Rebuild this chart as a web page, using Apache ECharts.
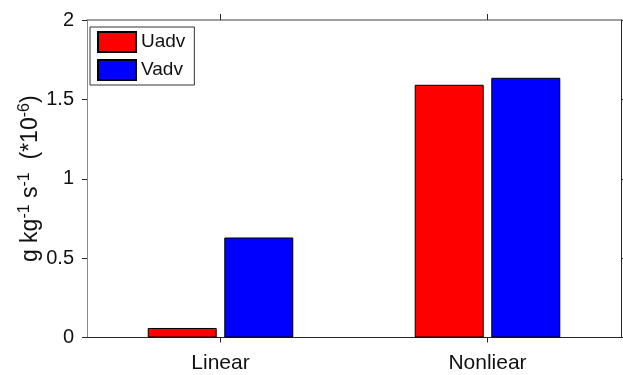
<!DOCTYPE html>
<html>
<head>
<meta charset="utf-8">
<script src="https://cdn.jsdelivr.net/npm/echarts@6/dist/echarts.min.js"></script>
<style>html,body{margin:0;padding:0;background:#fff;}#c{width:623px;height:375px;}</style>
</head>
<body>
<div id="c"></div>
<script>
var categories = ['Linear', 'Nonliear'];
var uadv = [0.06, 1.592];
var vadv = [0.63, 1.636];
var yTicks = [0, 0.5, 1, 1.5, 2];

var chart = echarts.init(document.getElementById('c'), null, {renderer: 'canvas'});
var font = 'Liberation Sans, Arial, sans-serif';
chart.setOption({
  animation: false,
  backgroundColor: '#fff',
  grid: {left: 87, right: 2, top: 20, bottom: 37.5},
  legend: {
    left: 90, top: 27, orient: 'vertical',
    itemWidth: 38, itemHeight: 20, itemGap: 6,
    padding: [4, 9, 4, 7],
    borderColor: '#333', borderWidth: 1, backgroundColor: '#fff',
    icon: 'rect',
    textStyle: {fontFamily: font, fontSize: 19, color: '#111'},
    data: ['Uadv', 'Vadv']
  },
  xAxis: [{
    type: 'category', data: categories, position: 'bottom',
    axisLine: {lineStyle: {color: '#262626', width: 1}},
    axisTick: {show: true, alignWithLabel: true, length: 5, lineStyle: {color: '#262626'}},
    axisLabel: {fontFamily: font, fontSize: 21, color: '#111', margin: 15}
  }, {
    type: 'category', data: categories, position: 'top',
    axisLine: {show: true, onZero: false, lineStyle: {color: '#808080', width: 1.5}},
    axisTick: {show: true, alignWithLabel: true, length: 6, lineStyle: {color: '#262626'}},
    axisLabel: {show: false}
  }],
  yAxis: [{
    type: 'value', min: yTicks[0], max: yTicks[yTicks.length - 1], interval: 0.5, position: 'left',
    splitLine: {show: false},
    axisLine: {show: true, lineStyle: {color: '#888', width: 1}},
    axisTick: {show: true, length: 5, lineStyle: {color: '#262626'}},
    axisLabel: {fontFamily: font, fontSize: 20, color: '#111', margin: 13},
    name: 'g kg{sup|-1} s{sup|-1}  (*10{sup|-6})',
    nameLocation: 'middle', nameRotate: 90, nameGap: 42, nameMoveOverlap: false,
    nameTextStyle: {
      fontFamily: font, fontSize: 23, color: '#111', lineHeight: 28,
      rich: {sup: {fontFamily: font, fontSize: 16, color: '#111', verticalAlign: 'top', lineHeight: 16}}
    }
  }, {
    type: 'value', min: yTicks[0], max: yTicks[yTicks.length - 1], interval: 0.5, position: 'right',
    splitLine: {show: false},
    axisLine: {show: true, lineStyle: {color: '#262626', width: 1}},
    axisTick: {show: true, length: 3, lineStyle: {color: '#262626'}},
    axisLabel: {show: false}
  }],
  series: [{
    name: 'Uadv', type: 'bar', data: uadv, barWidth: 69, barGap: '11%',
    itemStyle: {color: '#ff0000', borderColor: '#000', borderWidth: 1}
  }, {
    name: 'Vadv', type: 'bar', data: vadv, barWidth: 69, barGap: '11%',
    itemStyle: {color: '#0000ff', borderColor: '#000', borderWidth: 1}
  }]
});
</script>
</body>
</html>
